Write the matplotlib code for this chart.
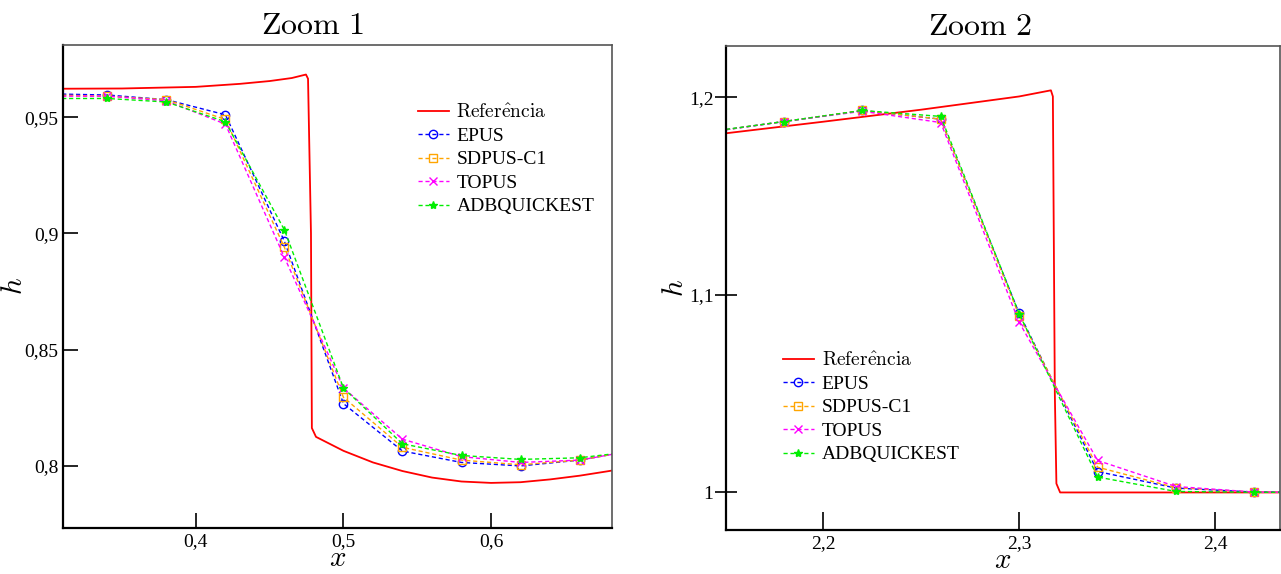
import matplotlib.pyplot as plt

plt.rcParams['font.family'] = ['Liberation Serif', 'DejaVu Serif']
plt.rcParams['mathtext.fontset'] = 'cm'

# ---- Zoom 1 data ----
x1 = [0.30, 0.34, 0.38, 0.42, 0.46, 0.50, 0.54, 0.58, 0.62, 0.66, 0.70]
epus1 = [0.9600, 0.9595, 0.9575, 0.9510, 0.8966, 0.8268, 0.8064, 0.8015, 0.8000, 0.8025, 0.8070]
sdpus1 = [0.9595, 0.9590, 0.9575, 0.9490, 0.8940, 0.8295, 0.8080, 0.8025, 0.8005, 0.8025, 0.8070]
topus1 = [0.9590, 0.9590, 0.9570, 0.9470, 0.8897, 0.8335, 0.8115, 0.8040, 0.8015, 0.8025, 0.8070]
adbq1 = [0.9580, 0.9580, 0.9565, 0.9480, 0.9015, 0.8335, 0.8095, 0.8045, 0.8028, 0.8035, 0.8065]
ref_x1 = [0.31, 0.35, 0.40, 0.43, 0.45, 0.465, 0.4746, 0.4760, 0.4780, 0.4786, 0.4814,
          0.50, 0.52, 0.54, 0.56, 0.58, 0.60, 0.62, 0.64, 0.66, 0.68, 0.70]
ref_h1 = [0.9622, 0.9623, 0.9630, 0.9643, 0.9655, 0.9668, 0.9683, 0.9665, 0.9000, 0.8163, 0.8125,
          0.8065, 0.8015, 0.7978, 0.7950, 0.7933, 0.7927, 0.7930, 0.7942, 0.7958, 0.7978, 0.8000]
xt1 = [0.4, 0.5, 0.6]
xt1_lab = ['0,4', '0,5', '0,6']
yt1 = [0.8, 0.85, 0.9, 0.95]
yt1_lab = ['0,8', '0,85', '0,9', '0,95']

# ---- Zoom 2 data ----
x2 = [2.14, 2.18, 2.22, 2.26, 2.30, 2.34, 2.38, 2.42, 2.46]
epus2 = [1.1822, 1.1878, 1.1934, 1.1890, 1.0907, 1.0106, 1.0022, 1.0002, 1.0000]
sdpus2 = [1.1822, 1.1878, 1.1934, 1.1890, 1.0895, 1.0128, 1.0024, 1.0002, 1.0000]
topus2 = [1.1822, 1.1878, 1.1930, 1.1873, 1.0862, 1.0162, 1.0030, 1.0002, 1.0000]
adbq2 = [1.1824, 1.1878, 1.1934, 1.1904, 1.0905, 1.0078, 1.0005, 1.0001, 1.0000]
ref_x2 = [2.15, 2.20, 2.25, 2.30, 2.3162, 2.3172, 2.3182, 2.3190, 2.3209, 2.44]
ref_h2 = [1.1818, 1.1877, 1.1938, 1.2005, 1.2036, 1.2005, 1.0500, 1.0045, 1.0000, 1.0000]
xt2 = [2.2, 2.3, 2.4]
xt2_lab = ['2,2', '2,3', '2,4']
yt2 = [1.0, 1.1, 1.2]
yt2_lab = ['1', '1,1', '1,2']

labels = [r'$\mathrm{Refer\hat{e}ncia}$', 'EPUS', 'SDPUS-C1', 'TOPUS', 'ADBQUICKEST']

fig = plt.figure(figsize=(12.81, 5.74), dpi=100)
ax1 = fig.add_axes([0.0492, 0.0801, 0.4286, 0.8415])
ax2 = fig.add_axes([0.5667, 0.0767, 0.4325, 0.8430])


def draw(ax, x, ep, sd, to, ad, rx, rh):
    ax.plot(rx, rh, color='red', lw=1.3, label=labels[0])
    kw = dict(lw=1.0, linestyle=(0, (3, 2)), markersize=6, markeredgewidth=1.0)
    ax.plot(x, ep, color='blue', marker='o', mfc='none', label=labels[1], **kw)
    ax.plot(x, sd, color='orange', marker='s', mfc='none', label=labels[2], **kw)
    ax.plot(x, to, color='magenta', marker='x', label=labels[3], **kw)
    ax.plot(x, ad, color='#00ee00', marker='*', label=labels[4], **kw)
    ax.set_xlabel(r'$x$', fontsize=21, labelpad=-3)
    for s in ['left', 'bottom']:
        ax.spines[s].set_linewidth(1.6)
        ax.spines[s].set_color('black')
    for s in ['top', 'right']:
        ax.spines[s].set_linewidth(1.2)
        ax.spines[s].set_color('#555555')


draw(ax1, x1, epus1, sdpus1, topus1, adbq1, ref_x1, ref_h1)
ax1.set_xlim(0.31, 0.682)
ax1.set_ylim(0.7733, 0.981)
ax1.set_xticks(xt1, xt1_lab)
ax1.set_yticks(yt1, yt1_lab)
ax1.tick_params(direction='in', length=11, width=1.2, labelsize=14, top=False, right=False)
ax1.set_ylabel(r'$h$', fontsize=21)
ax1.yaxis.set_label_coords(-0.064, 0.5)
ax1.set_title(r'$\mathrm{Zoom\ 1}$', fontsize=23, pad=8, x=0.454)
ax1.legend(loc='upper left', bbox_to_anchor=(0.628, 0.9), frameon=False, fontsize=14,
           handlelength=1.6, handletextpad=0.4, labelspacing=0.3, borderpad=0)

draw(ax2, x2, epus2, sdpus2, topus2, adbq2, ref_x2, ref_h2)
ax2.set_xlim(2.1505, 2.433)
ax2.set_ylim(0.981, 1.226)
ax2.set_xticks(xt2, xt2_lab)
ax2.set_yticks(yt2, yt2_lab)
ax2.tick_params(axis='x', direction='in', length=13, width=1.2, labelsize=14, top=False)
ax2.tick_params(axis='y', direction='inout', length=16, width=1.2, labelsize=14, right=False, pad=1)
ax2.set_ylabel(r'$h$', fontsize=21)
ax2.yaxis.set_label_coords(-0.066, 0.5)
ax2.set_title(r'$\mathrm{Zoom\ 2}$', fontsize=23, pad=8, x=0.4585)
ax2.legend(loc='upper left', bbox_to_anchor=(0.085, 0.39), frameon=False, fontsize=14,
           handlelength=1.6, handletextpad=0.4, labelspacing=0.3, borderpad=0)

fig.savefig('out.png', dpi=100)
